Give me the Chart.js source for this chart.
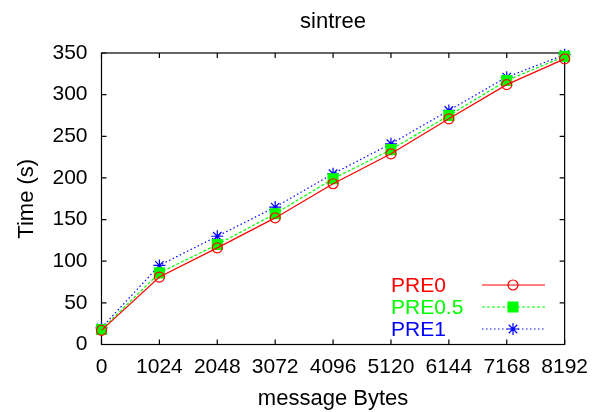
<!DOCTYPE html>
<html>
<head>
<meta charset="utf-8">
<script src="https://cdn.jsdelivr.net/npm/chart.js@4"></script>
<style>
html,body{margin:0;padding:0;background:#fff;}
#wrap{width:598px;height:412px;position:relative;}
</style>
</head>
<body>
<div id="wrap"><canvas id="c" width="598" height="412"></canvas></div>
<script>
const categories = [0, 1024, 2048, 3072, 4096, 5120, 6144, 7168, 8192];
const pre0   = [17, 81, 116, 152, 193, 229, 271, 312, 343];
const pre05  = [18, 86, 120, 157, 199, 234, 275, 317, 346];
const pre1   = [20, 95, 130, 165, 205, 241, 281, 321, 348];
const seriesNames = ['PRE0', 'PRE0.5', 'PRE1'];
const chartTitle = 'sintree';
const xTitle = 'message Bytes';
const yTitle = 'Time (s)';

const FONT = '"Liberation Sans", Arial, Helvetica, sans-serif';
const FS = 21;
const FS_TITLE = 22;

function pts(arr){ return categories.map((c,i)=>({x:c, y:arr[i]})); }

const styles = [
  {color:'#ff0000', dash:[], pointStyle:'circle', radius:5, fill:false},
  {color:'#00ff00', dash:[3,2], pointStyle:'rect', radius:7, fill:true},
  {color:'#0000ff', dash:[1.5,2.5], pointStyle:'star', radius:6, fill:false}
];
const seriesData = [pre0, pre05, pre1];

const datasets = seriesData.map((arr,i)=>({
  label: seriesNames[i],
  data: pts(arr),
  borderColor: styles[i].color,
  backgroundColor: styles[i].fill ? styles[i].color : 'rgba(0,0,0,0)',
  pointBorderColor: styles[i].color,
  pointBackgroundColor: styles[i].fill ? styles[i].color : 'rgba(0,0,0,0)',
  borderWidth: 1.2,
  pointBorderWidth: 1.2,
  borderDash: styles[i].dash,
  pointStyle: styles[i].pointStyle,
  pointRadius: styles[i].radius,
  tension: 0,
  clip: false
}));

const framePlugin = {
  id: 'frame',
  beforeDatasetsDraw(chart){
    const {ctx, chartArea:a, scales} = chart;
    ctx.save();
    ctx.strokeStyle = '#000';
    ctx.lineWidth = 1.2;
    ctx.strokeRect(a.left, a.top, a.right - a.left, a.bottom - a.top);
    const TL = 5;
    ctx.beginPath();
    scales.x.ticks.forEach(t=>{
      const px = scales.x.getPixelForValue(t.value);
      ctx.moveTo(px, a.bottom); ctx.lineTo(px, a.bottom - TL);
      ctx.moveTo(px, a.top); ctx.lineTo(px, a.top + TL);
    });
    scales.y.ticks.forEach(t=>{
      const py = scales.y.getPixelForValue(t.value);
      ctx.moveTo(a.left, py); ctx.lineTo(a.left + TL, py);
      ctx.moveTo(a.right, py); ctx.lineTo(a.right - TL, py);
    });
    ctx.stroke();
    ctx.restore();
  },
  afterDraw(chart){
    const {ctx, chartArea:a} = chart;
    ctx.save();
    ctx.fillStyle = '#000';
    ctx.font = FS_TITLE + 'px ' + FONT;
    ctx.textAlign = 'center';
    ctx.textBaseline = 'alphabetic';
    const cx = (a.left + a.right) / 2;
    ctx.fillText(chartTitle, cx, 28);
    ctx.fillText(xTitle, cx, 405);
    ctx.save();
    ctx.translate(33, (a.top + a.bottom) / 2);
    ctx.rotate(-Math.PI/2);
    ctx.fillText(yTitle, 0, 0);
    ctx.restore();
    // legend
    ctx.font = FS + 'px ' + FONT;
    const rows = [285, 307, 329];
    chart.data.datasets.forEach((ds,i)=>{
      const y = rows[i];
      ctx.textAlign = 'left';
      ctx.textBaseline = 'middle';
      ctx.fillStyle = ds.borderColor;
      ctx.fillText(ds.label, 391, y + 1);
      ctx.strokeStyle = ds.borderColor;
      ctx.lineWidth = ds.borderWidth;
      ctx.setLineDash(ds.borderDash);
      ctx.beginPath();
      ctx.moveTo(482, y); ctx.lineTo(545, y);
      ctx.stroke();
      ctx.setLineDash([]);
      ctx.fillStyle = ds.pointBackgroundColor;
      ctx.lineWidth = ds.pointBorderWidth;
      Chart.helpers.drawPoint(ctx, {pointStyle: ds.pointStyle, radius: ds.pointRadius, borderWidth: ds.pointBorderWidth, rotation: 0}, 513, y);
    });
    ctx.restore();
  }
};

new Chart(document.getElementById('c'), {
  type: 'line',
  data: { datasets },
  options: {
    responsive: false,
    animation: false,
    devicePixelRatio: 1,
    layout: { padding: { left: 0, right: 27, top: 53, bottom: 0 } },
    plugins: { legend: { display: false }, title: { display: false }, tooltip: { enabled: false } },
    scales: {
      x: {
        type: 'linear',
        min: 0, max: 8192,
        ticks: { stepSize: 1024, color: '#000', font: { family: FONT, size: FS }, padding: 10, maxRotation: 0, autoSkip: false,
                 callback: v => String(v) },
        grid: { display: false, drawTicks: false },
        border: { display: false },
        afterFit(s){ s.height = 67.5; }
      },
      y: {
        min: 0, max: 350,
        ticks: { stepSize: 50, color: '#000', font: { family: FONT, size: FS }, padding: 14, callback: v => String(v) },
        grid: { display: false, drawTicks: false },
        border: { display: false },
        afterFit(s){ s.width = 101.5; }
      }
    }
  },
  plugins: [framePlugin]
});
</script>
</body>
</html>
